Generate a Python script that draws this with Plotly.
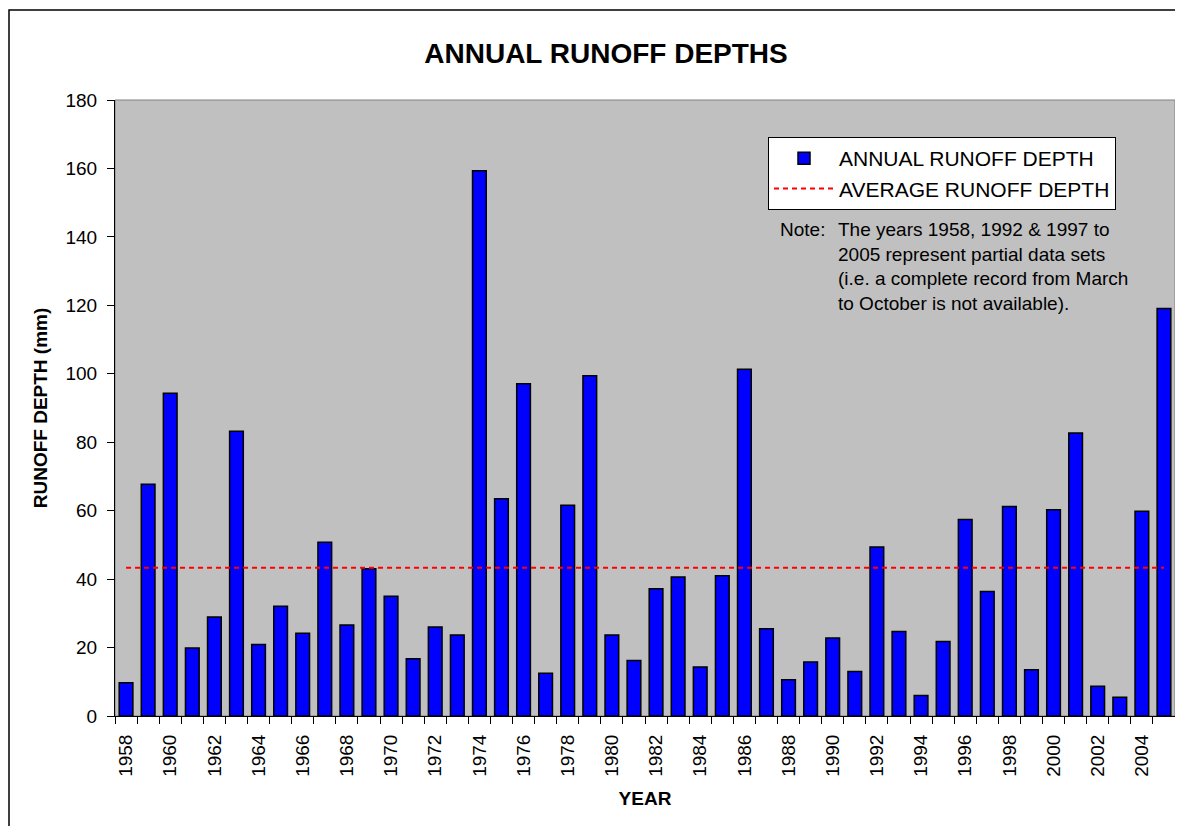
import plotly.graph_objects as go

years = list(range(1958, 2006))
runoff = [9.7, 67.7, 94.3, 19.9, 28.9, 83.2, 20.9, 32.1, 24.2, 50.8,
          26.6, 43.0, 35.0, 16.7, 26.0, 23.7, 159.3, 63.5, 97.1, 12.5,
          61.6, 99.4, 23.7, 16.2, 37.2, 40.6, 14.3, 41.0, 101.3, 25.5,
          10.6, 15.8, 22.8, 13.0, 49.4, 24.7, 6.0, 21.8, 57.4, 36.4,
          61.2, 13.5, 60.3, 82.7, 8.7, 5.5, 59.8, 119.1]
average_depth = 43.3
year_labels = [str(y) for y in years]
tick_text = [str(y) if y % 2 == 0 else "" for y in years]

FONT = "Arial, Liberation Sans, sans-serif"
OFF = 8  # page body margin offset

fig = go.Figure()
fig.add_trace(go.Bar(
    x=year_labels, y=runoff, name="ANNUAL RUNOFF DEPTH",
    marker=dict(color="#0000FF", line=dict(color="#000000", width=1.5)),
    legendgroup="a",
))
fig.add_trace(go.Scatter(
    x=year_labels, y=[average_depth] * len(years), mode="lines",
    name="AVERAGE RUNOFF DEPTH",
    line=dict(color="#FF0000", width=2, dash="5px,4px"),
    legendgroup="b",
))

fig.update_layout(
    width=1183 - OFF, height=826 - OFF,
    margin=dict(l=115 - OFF, r=8, t=100 - OFF, b=110),
    paper_bgcolor="white", plot_bgcolor="#C0C0C0",
    bargap=0.38,
    font=dict(family=FONT, color="black"),
    title=dict(text="<b>ANNUAL RUNOFF DEPTHS</b>", font=dict(size=28, family=FONT),
               x=(606 - OFF) / (1183 - OFF), xref="container", xanchor="center",
               y=1 - (53 - OFF) / (826 - OFF), yref="container", yanchor="middle"),
    showlegend=True,
    legend=dict(x=(768 - 115) / 1060, y=(716 - 137) / 616, xanchor="left", yanchor="top",
                bgcolor="white", bordercolor="black", borderwidth=1,
                font=dict(size=21, family=FONT), itemwidth=60,
                tracegroupgap=8, traceorder="normal"),
    xaxis=dict(type="category", tickmode="array", tickvals=year_labels, ticktext=tick_text,
               tickangle=-90, tickson="boundaries", ticks="outside", ticklen=7,
               tickcolor="black", tickwidth=1, showline=True, linecolor="black",
               linewidth=1, showgrid=False, tickfont=dict(size=19, family=FONT),
               ticklabelstandoff=10,
               title=dict(text="<b>YEAR</b>", font=dict(size=19, family=FONT), standoff=15)),
    yaxis=dict(range=[0, 180], dtick=20, ticks="outside", ticklen=7, tickcolor="black",
               showline=True, linecolor="black", linewidth=1, showgrid=False,
               zeroline=False, tickfont=dict(size=19, family=FONT),
               ticklabelstandoff=6,
               title=dict(text="<b>RUNOFF DEPTH (mm)</b>", font=dict(size=19, family=FONT),
                          standoff=12)),
    shapes=[
        dict(type="rect", xref="paper", yref="paper", x0=0, x1=1, y0=0, y1=1,
             line=dict(color="#808080", width=1), layer="below"),
        dict(type="rect", xref="paper", yref="paper",
             x0=(9 - 115) / 1060, x1=(1200 - 115) / 1060,
             y0=(716 - 840) / 616, y1=(716 - 10) / 616,
             line=dict(color="black", width=1.5)),
    ],
    annotations=[
        dict(text="Note:", xref="paper", yref="paper", x=(778 - 115) / 1060,
             y=(716 - 217) / 616, xanchor="left", yanchor="top", showarrow=False,
             align="left", font=dict(size=19, family=FONT)),
        dict(text="The years 1958, 1992 &amp; 1997 to<br>2005 represent partial data sets<br>"
                  "(i.e. a complete record from March<br>to October is not available).",
             xref="paper", yref="paper", x=(836 - 115) / 1060, y=(716 - 217) / 616,
             xanchor="left", yanchor="top", showarrow=False, align="left",
             font=dict(size=19, family=FONT)),
    ],
)

fig.write_html("out.html")
